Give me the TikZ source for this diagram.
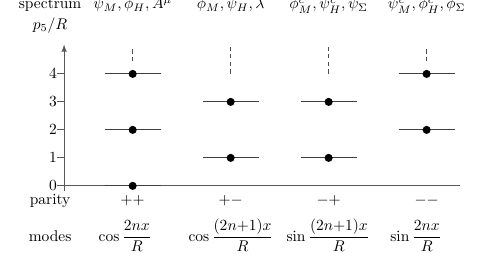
\documentclass[tikz,border=0pt]{standalone}
\usepackage{amsmath}
\begin{document}
\begin{tikzpicture}[x=0.635cm, y=0.635cm,
  axis/.style={black!65, line width=0.6pt},
  level/.style={black!75, line width=0.6pt},
  tower/.style={black!70, densely dashed, line width=0.5pt},
  state/.style={circle, fill=black, inner sep=0pt, minimum size=5.2pt}]
\useasboundingbox (-2.29,-3.18) rectangle (15.25,6.64);
% axes
\draw[axis, -latex] (0,-0.2) -- (0,5.05);
\draw[axis] (-0.25,0) -- (14.14,0);
\foreach \n in {0,...,4}
  \draw[axis] (-0.25,\n) -- (0,\n) node[left=1pt, text=black] (tick\n) {$\n$};
\node[anchor=base] (spec) at (-0.5,6.32) {spectrum};
\node[anchor=base] (pR) at (-0.5,5.6) {$p_5/R$};
\node[anchor=base] (par) at (-0.5,-0.66) {parity};
\node[anchor=base] (modes) at (-0.5,-1.98) {modes};
% columns
\foreach \c/\name/\p in {2.45/{\psi_M,\phi_H,A^\mu}/{++},
                         5.95/{\phi_M,\psi_H,\lambda}/{+-},
                         9.45/{\phi^c_M,\psi^c_H,\psi_\Sigma}/{-+},
                         12.95/{\psi^c_M,\phi^c_H,\phi_\Sigma}/{--}} {
  \node[anchor=base] (h\c) at (\c,6.32) {$\name$};
  \node[anchor=base] (p\c) at (\c,-0.66) {$\p$};
}
% levels
\foreach \c/\l in {2.45/0, 2.45/2, 2.45/4, 5.95/1, 5.95/3,
                   9.45/1, 9.45/3, 12.95/2, 12.95/4} {
  \draw[level] (\c-1,\l) -- (\c+1,\l);
  \node[state] at (\c,\l) {};
}
\foreach \c/\b in {2.45/4.45, 5.95/4, 9.45/4, 12.95/4.45}
  \draw[tower] (\c,\b) -- (\c,4.95);
% modes
\node[anchor=base] (m1) at (2.18,-1.98) {$\displaystyle\cos\frac{2nx}{R}$};
\node[anchor=base] (m2) at (5.96,-1.98) {$\displaystyle\cos\frac{(2n{+}1)x}{R}$};
\node[anchor=base] (m3) at (9.43,-1.98) {$\displaystyle\sin\frac{(2n{+}1)x}{R}$};
\node[anchor=base] (m4) at (12.57,-1.98) {$\displaystyle\sin\frac{2nx}{R}$};
\end{tikzpicture}
\end{document}
